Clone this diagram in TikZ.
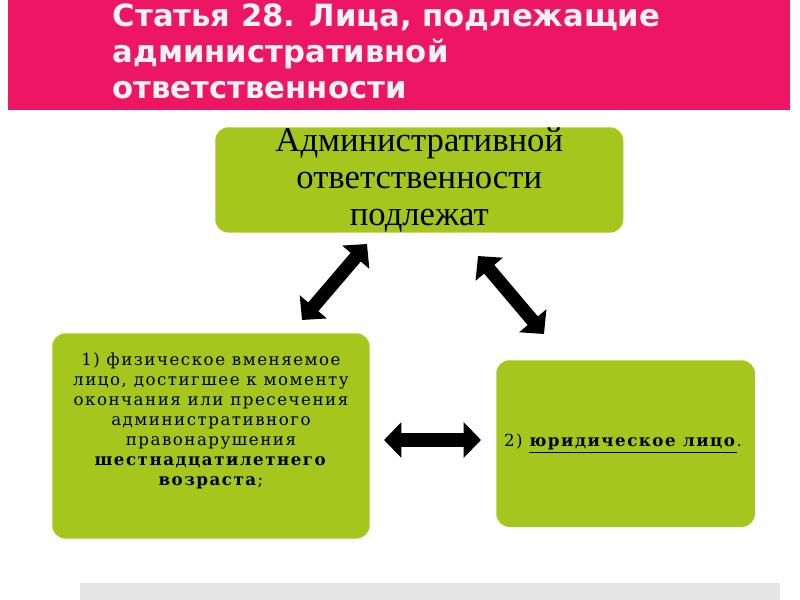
\documentclass[tikz,border=0pt]{standalone}
\usepackage{fontspec}
\setmainfont{DejaVu Serif}
\newfontfamily\titlefont{DejaVu Sans}
\newfontfamily\timesfont{Liberation Serif}
\newfontfamily\boxfont[LetterSpace=9]{DejaVu Serif}
\usetikzlibrary{arrows.meta}
\definecolor{hdrpink}{HTML}{EC1665}
\definecolor{boxgreen}{HTML}{A5C61C}
\tikzset{
  gbox/.style={fill=boxgreen,rounded corners=10pt,anchor=north west},
  dblarrow/.style={line width=10pt,{Triangle[width=26pt,length=13pt]}-{Triangle[width=26pt,length=13pt]}}
}
\begin{document}
\begin{tikzpicture}[x=0.75pt,y=-0.75pt]
  \useasboundingbox (0,0) rectangle (800,600);
  \fill[hdrpink] (8,0) rectangle (790,110);
  \node[anchor=west,align=left,text=white!90!gray,font=\titlefont\bfseries\fontsize{23}{27}\selectfont]
    (title) at (108,51) {Статья 28. Лица, подлежащие\\административной\\ответственности};
  \fill[gray!20] (80,583) rectangle (780,600);
  \node[gbox,minimum width=306pt,minimum height=79pt] (top) at (215,127) {};
  \node[align=center,font=\timesfont\fontsize{26}{28}\selectfont] at (top.center)
    {Административной\\ответственности\\подлежат};
  \node[gbox,minimum width=238pt,minimum height=154pt] (phys) at (52,333) {};
  \node[align=center,font=\boxfont\fontsize{12.5}{15}\selectfont] at ([yshift=-66]phys.north)
    {1) физическое вменяемое\\лицо, достигшее к моменту\\окончания или пресечения\\административного\\правонарушения\\\textbf{шестнадцатилетнего}\\\textbf{возраста};};
  \node[gbox,minimum width=194pt,minimum height=125pt] (jur) at (496,360) {};
  \node[font=\boxfont\fontsize{12.5}{15}\selectfont] at ([xshift=-2]jur.center)
    {2) \underline{\textbf{юридическое лицо}}.};
  \coordinate (a1) at (302,320);
  \coordinate (a2) at (367,244);
  \coordinate (b1) at (478,256);
  \coordinate (b2) at (544,334);
  \coordinate (c1) at (384,440);
  \coordinate (c2) at (481,440);
  \draw[dblarrow] (a1) -- (a2);
  \draw[dblarrow] (b1) -- (b2);
  \draw[dblarrow] (c1) -- (c2);
\end{tikzpicture}
\end{document}
